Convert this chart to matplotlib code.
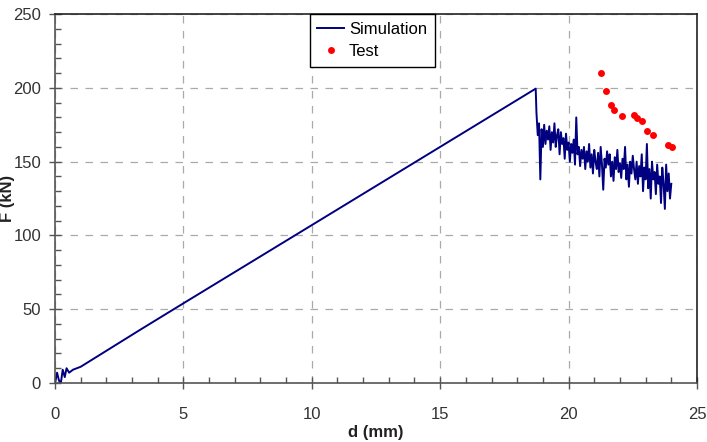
import matplotlib
matplotlib.use("Agg")
import matplotlib.pyplot as plt
import numpy as np
from matplotlib.ticker import MultipleLocator

plt.rcParams['font.family'] = ['Liberation Sans', 'DejaVu Sans']

# Simulation: loading branch up to the peak
d_load = [0.0, 0.08, 0.15, 0.22, 0.3, 0.38, 0.45, 0.55, 0.7, 1.0, 3.31, 5.0, 10.0, 18.72]
f_load = [0.0, 7.0, 2.0, -1.0, 9.0, 4.0, 10.0, 7.0, 9.0, 11.0, 36.0, 54.0, 107.0, 199.5]

# Simulation: post-peak noisy branch (d = 18.75 ... 24.0, step 0.05)
f_tail = [183, 168, 176, 138, 172, 160,
          175, 162, 171, 165, 174, 158, 170, 163, 176, 160,
          168, 172, 155, 170, 162, 166, 152, 169, 158, 163,
          150, 162, 156, 165, 148, 180, 155, 160, 147, 158,
          152, 160, 145, 157, 150, 162, 146, 155, 142, 158,
          150, 145, 156, 140, 160, 148, 131, 152, 146, 157,
          148, 155, 140, 150, 137, 153, 145, 158, 143, 149,
          139, 152, 145, 160, 138, 148, 133, 150, 142, 154,
          145, 138, 150, 135, 147, 140, 155, 130, 146, 138,
          162, 132, 145, 125, 150, 138, 143, 128, 148, 135,
          140, 122, 146, 135, 118, 148, 130, 142, 125, 135]
d_tail = np.linspace(18.75, 24.0, len(f_tail))

# Test points
d_test = [21.26, 21.47, 21.66, 21.78, 22.07, 22.56, 22.67, 22.87, 23.06, 23.27, 23.86, 24.01]
f_test = [209.8, 197.8, 188.3, 185.0, 180.9, 181.6, 179.3, 177.5, 170.7, 168.0, 161.5, 160.0]

d_sim = np.concatenate([d_load, d_tail])
f_sim = np.concatenate([f_load, f_tail])

fig = plt.figure(figsize=(7.07, 4.42), dpi=100)
ax = fig.add_axes([0.0778, 0.1335, 0.908, 0.8345])

ax.plot(d_sim, f_sim, color='#000080', lw=1.4, label='Simulation')
ax.plot(d_test, f_test, 'o', color='#ff0000', ms=5, mec='none', label='Test')

ax.set_xlim(0, 25)
ax.set_ylim(0, 250)
ax.xaxis.set_major_locator(MultipleLocator(5))
ax.xaxis.set_minor_locator(MultipleLocator(1))
ax.yaxis.set_major_locator(MultipleLocator(50))
ax.yaxis.set_minor_locator(MultipleLocator(10))
ax.tick_params(which='major', direction='inout', length=8, width=1, color='#555555',
               labelsize=12, labelcolor='#333333')
ax.tick_params(axis='x', which='major', pad=13)
ax.tick_params(axis='y', which='major', pad=6)
ax.tick_params(which='minor', direction='in', length=4, width=1, color='#555555')
ax.grid(True, which='major', linestyle=(0, (6, 6)), color='#aaaaaa', lw=0.9)

for s in ax.spines.values():
    s.set_color('#555555')
    s.set_linewidth(1.2)
ax.spines['top'].set_color('#222222')
ax.spines['right'].set_color('#222222')

ax.set_xlabel('d (mm)', fontweight='bold', fontsize=12, color='#222222')
ax.set_ylabel('F (kN)', fontweight='bold', fontsize=12, color='#222222')
ax.xaxis.set_label_coords(0.5, -0.114)
ax.yaxis.set_label_coords(-0.063, 0.5)

leg = ax.legend(loc='upper left', bbox_to_anchor=(0.397, 1.0), fancybox=False,
                edgecolor='black', framealpha=1, fontsize=12, handlelength=1.6,
                borderaxespad=0, handletextpad=0.3, borderpad=0.45, labelspacing=0.45)
leg.get_frame().set_linewidth(1.0)

fig.savefig('out.png', dpi=100)
